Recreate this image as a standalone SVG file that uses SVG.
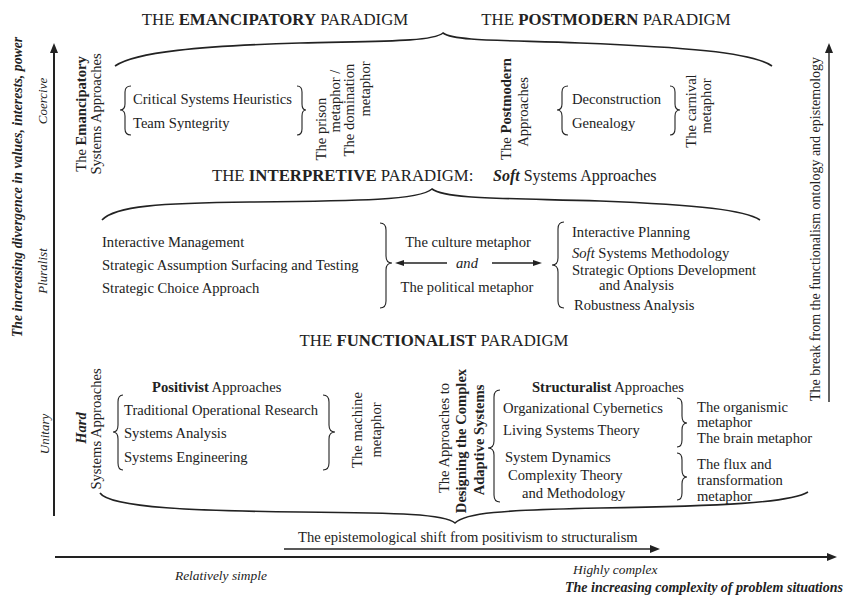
<svg xmlns="http://www.w3.org/2000/svg" width="845" height="597" viewBox="0 0 845 597">
<defs>
<marker id="ah" viewBox="0 0 10 8" refX="5" refY="4" markerWidth="10" markerHeight="8" markerUnits="userSpaceOnUse" orient="auto"><path d="M0,0 L10,4 L0,8 z" fill="#222"/></marker>
<marker id="ahs" viewBox="0 0 9 6" refX="4" refY="3" markerWidth="9" markerHeight="6" markerUnits="userSpaceOnUse" orient="auto"><path d="M0,0 L9,3 L0,6 z" fill="#222"/></marker>
</defs>
<style>
text{font-family:"Liberation Serif","Times New Roman",serif;fill:#222;}
.h{font-size:16.8px;}
.t{font-size:14.6px;}
.r{font-size:14.6px;text-anchor:middle;}
.m{text-anchor:middle;}
.i{font-style:italic;}
.b{font-weight:bold;}
.ax{font-size:13px;font-style:italic;text-anchor:middle;}
.brace{fill:none;stroke:#222;stroke-width:1.1;}
.big{fill:none;stroke:#222;stroke-width:1.6;}
.axis{fill:none;stroke:#222;stroke-width:2;}
.arr{fill:none;stroke:#222;stroke-width:1.4;}
</style>
<rect width="845" height="597" fill="#fff"/>

<g id="connectors">
<line class="axis" x1="54" y1="516" x2="54" y2="48" marker-end="url(#ah)"/>
<line class="axis" x1="55" y1="557" x2="832" y2="557" marker-end="url(#ah)"/>
<line class="arr" x1="829" y1="402" x2="829" y2="48" marker-end="url(#ah)"/>
<line class="arr" x1="284" y1="549" x2="655" y2="549" marker-end="url(#ah)"/>
<line class="arr" x1="447" y1="263" x2="400" y2="263" marker-end="url(#ahs)"/>
<line class="arr" x1="492" y1="263" x2="537" y2="263" marker-end="url(#ahs)"/>
</g>

<g id="axis-left">
<text class="b i" style="font-size:13.8px" text-anchor="middle" transform="translate(18,187) rotate(-90)" dy=".3em">The increasing divergence in values, interests, power</text>
<text class="ax" transform="translate(43,101) rotate(-90)" dy=".3em">Coercive</text>
<text class="ax" transform="translate(43,271) rotate(-90)" dy=".3em">Pluralist</text>
<text class="ax" transform="translate(45,434) rotate(-90)" dy=".3em">Unitary</text>
</g>

<g id="axis-right">
<text style="font-size:14px" text-anchor="middle" transform="translate(816,229) rotate(-90)" dy=".3em">The break from the functionalism ontology and epistemology</text>
</g>

<g id="axis-bottom">
<text class="i" style="font-size:13.4px" x="175" y="580">Relatively simple</text>
<text class="i" style="font-size:13.4px" x="573" y="574">Highly complex</text>
<text class="b i" style="font-size:14px" x="843" y="592" text-anchor="end">The increasing complexity of problem situations</text>
<text class="t" x="298" y="542">The epistemological shift from positivism to structuralism</text>
</g>

<g id="emancipatory-postmodern-paradigm">
<text class="h m" x="275" y="25">THE <tspan class="b">EMANCIPATORY</tspan> PARADIGM</text>
<text class="h m" x="606" y="25">THE <tspan class="b">POSTMODERN</tspan> PARADIGM</text>
<path class="big" d="M115,66 C135,52 200,46 300,43 C380,41 432,42 443,33 C454,41 500,40 580,43 C680,47 752,52 772,66"/>
</g>

<g id="emancipatory-approaches">
<text class="r" transform="translate(82,114) rotate(-90)" dy=".3em">The <tspan class="b">Emancipatory</tspan></text>
<text class="r" transform="translate(97,114) rotate(-90)" dy=".3em">Systems Approaches</text>
<path class="brace" d="M131,86 Q125,86 125,92 L125,104 Q125,110 120,110 Q125,110 125,116 L125,129 Q125,135 131,135"/>
<text class="t" x="133" y="104">Critical Systems Heuristics</text>
<text class="t" x="133" y="128">Team Syntegrity</text>
<path class="brace" d="M297,86 Q302,86 302,92 L302,104 Q302,110 306,110 Q302,110 302,116 L302,129 Q302,135 297,135"/>
<text class="r" transform="translate(322,129) rotate(-90)" dy=".3em">The prison</text>
<text class="r" transform="translate(336,101) rotate(-90)" dy=".3em">metaphor /</text>
<text class="r" transform="translate(350,110) rotate(-90)" dy=".3em">The domination</text>
<text class="r" transform="translate(366,89) rotate(-90)" dy=".3em">metaphor</text>
</g>

<g id="postmodern-approaches">
<text class="r" transform="translate(507,109) rotate(-90)" dy=".3em">The <tspan class="b">Postmodern</tspan></text>
<text class="r" transform="translate(524,112) rotate(-90)" dy=".3em">Approaches</text>
<path class="brace" d="M568,86 Q562,86 562,92 L562,104 Q562,110 557,110 Q562,110 562,116 L562,129 Q562,135 568,135"/>
<text class="t" x="572" y="104">Deconstruction</text>
<text class="t" x="572" y="128">Genealogy</text>
<path class="brace" d="M670,86 Q675,86 675,92 L675,104 Q675,110 680,110 Q675,110 675,116 L675,129 Q675,135 670,135"/>
<text class="r" transform="translate(692,111) rotate(-90)" dy=".3em">The carnival</text>
<text class="r" transform="translate(707,106) rotate(-90)" dy=".3em">metaphor</text>
</g>

<g id="interpretive-paradigm">
<text class="h" x="212" y="181">THE <tspan class="b">INTERPRETIVE</tspan> PARADIGM:</text>
<text style="font-size:16px" x="493" y="181"><tspan class="b i">Soft</tspan> Systems Approaches</text>
<path class="big" d="M102,220 C115,206 160,203 250,202 C360,201 420,200 432,189 C445,199 500,198 600,201 C700,205 745,210 760,220"/>
</g>

<g id="interpretive-left">
<text class="t" x="102" y="247">Interactive Management</text>
<text class="t" x="102" y="270">Strategic Assumption Surfacing and Testing</text>
<text class="t" x="102" y="293">Strategic Choice Approach</text>
<path class="brace" d="M380,223 Q386,223 386,230 L386,256 Q386,263 392,263 Q386,263 386,270 L386,301 Q386,308 380,308"/>
</g>

<g id="interpretive-metaphors">
<text class="t m" x="468" y="247">The culture metaphor</text>
<text class="t m i" x="467" y="268">and</text>
<text class="t m" x="467" y="292">The political metaphor</text>
</g>

<g id="interpretive-right">
<path class="brace" d="M564,222 Q558,222 558,229 L558,258 Q558,265 552,265 Q558,265 558,272 L558,301 Q558,308 564,308"/>
<text class="t" x="572" y="237">Interactive Planning</text>
<text class="t" x="572" y="258"><tspan class="i">Soft</tspan> Systems Methodology</text>
<text class="t" x="572" y="275">Strategic Options Development</text>
<text class="t" x="599" y="290">and Analysis</text>
<text class="t" x="574" y="310">Robustness Analysis</text>
</g>

<g id="functionalist-paradigm">
<text class="h m" x="434" y="346">THE <tspan class="b">FUNCTIONALIST</tspan> PARADIGM</text>
<path class="big" d="M100,493 C110,508 200,511 300,512 C400,513 445,514 455,523 C465,513 500,510 600,508 C720,506 790,503 808,492"/>
</g>

<g id="hard-approaches">
<text class="r" transform="translate(82,428) rotate(-90)" dy=".3em"><tspan class="b i">Hard</tspan></text>
<text class="r" transform="translate(97,429) rotate(-90)" dy=".3em">Systems Approaches</text>
<text class="t" x="152" y="392"><tspan class="b">Positivist</tspan> Approaches</text>
<path class="brace" d="M123,395 Q118,395 118,402 L118,425 Q118,432 113,432 Q118,432 118,439 L118,463 Q118,470 123,470"/>
<text class="t" x="124" y="415">Traditional Operational Research</text>
<text class="t" x="124" y="438">Systems Analysis</text>
<text class="t" x="124" y="462">Systems Engineering</text>
<path class="brace" d="M323,395 Q329,395 329,402 L329,425 Q329,432 335,432 Q329,432 329,439 L329,463 Q329,470 323,470"/>
<text class="r" transform="translate(358,430) rotate(-90)" dy=".3em">The machine</text>
<text class="r" transform="translate(377,430) rotate(-90)" dy=".3em">metaphor</text>
</g>

<g id="complex-adaptive-approaches">
<text class="r" transform="translate(445,438) rotate(-90)" dy=".3em">The Approaches to</text>
<text class="r b" transform="translate(462,441) rotate(-90)" dy=".3em">Designing the Complex</text>
<text class="r b" transform="translate(480,440) rotate(-90)" dy=".3em">Adaptive Systems</text>
<text class="t" x="532" y="392"><tspan class="b">Structuralist</tspan> Approaches</text>
<path class="brace" d="M500,390 Q494,390 494,397 L494,441 Q494,448 488,448 Q494,448 494,455 L494,495 Q494,502 500,502"/>
<text class="t" x="503" y="413">Organizational Cybernetics</text>
<text class="t" x="503" y="435">Living Systems Theory</text>
<text class="t" x="505" y="462">System Dynamics</text>
<text class="t" x="508" y="480">Complexity Theory</text>
<text class="t" x="522" y="498">and Methodology</text>
<path class="brace" d="M677,398 Q682,398 682,405 L682,416 Q682,423 687,423 Q682,423 682,430 L682,440 Q682,447 677,447"/>
<path class="brace" d="M677,453 Q682,453 682,460 L682,470 Q682,477 687,477 Q682,477 682,484 L682,493 Q682,500 677,500"/>
<text class="t" x="697" y="412">The organismic</text>
<text class="t" x="697" y="427">metaphor</text>
<text class="t" x="697" y="443">The brain metaphor</text>
<text class="t" x="697" y="469">The flux and</text>
<text class="t" x="697" y="485">transformation</text>
<text class="t" x="697" y="501">metaphor</text>
</g>
</svg>
